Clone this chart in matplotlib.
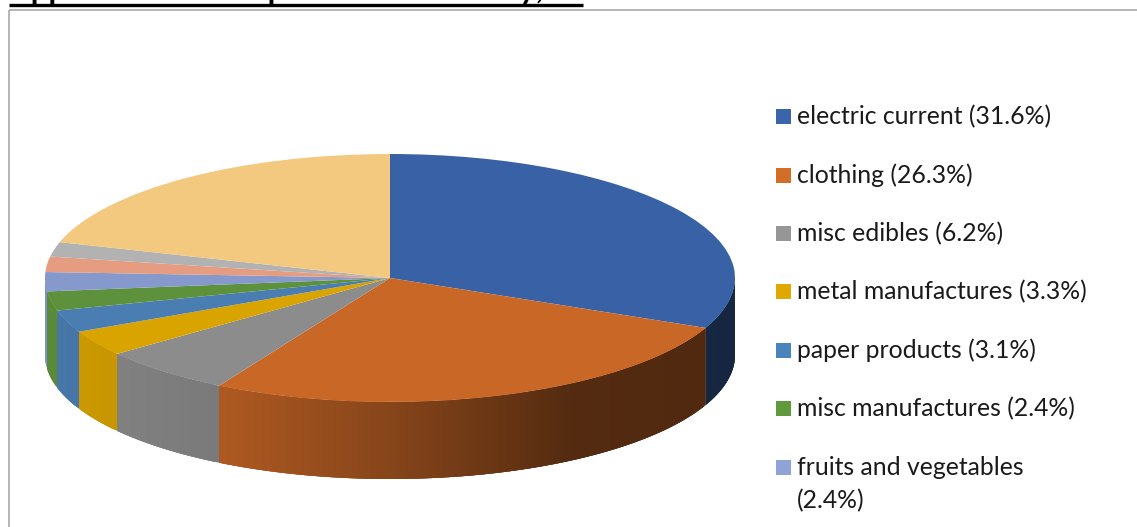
import numpy as np
import matplotlib
matplotlib.use("Agg")
import matplotlib.pyplot as plt
from matplotlib.patches import Rectangle

plt.rcParams['font.family'] = ['Lato', 'DejaVu Sans']

# slice sizes, last three slices have no visible legend row
labels = ["electric current (31.6%)", "clothing (26.3%)", "misc edibles (6.2%)",
          "metal manufactures (3.3%)", "paper products (3.1%)", "misc manufactures (2.4%)",
          "fruits and vegetables\n(2.4%)"]
values = [31.6, 26.65, 6.27, 3.35, 2.9, 2.5, 2.5, 2.0, 1.9, 20.33]
colors = ["#3962A6", "#C96727", "#8C8C8C", "#D9A300", "#4A7EB2",
          "#5E913C", "#8699CC", "#E59C80", "#B2B2B2", "#F3C87F"]
legend_colors = ["#3C64AA", "#D26E28", "#969696", "#E0A800", "#4A84BC", "#5F9B3C", "#8FA3D7"]
legend_rows = [116.5, 175, 233.5, 291.5, 350, 408.5, 467]

title = "Appendix 5: US Imports from Country, 2018"

W, H = 1137, 527
cx, cy, rx, ry, depth = 390, 278, 345, 124, 77

fig = plt.figure(figsize=(W / 100, H / 100), dpi=100)
fig.patch.set_facecolor("white")

# pie lives in unit coords, squashed by the axes limits
ax = fig.add_axes([0, 0, 1, 1])
ax.pie(values, colors=colors, startangle=90, counterclock=False, radius=1,
       wedgeprops={"linewidth": 0})
ax.set_aspect("auto")
ax.set_xlim(-cx / rx, (W - cx) / rx)
ax.set_ylim(-(H - cy) / ry, cy / ry)


def shade(px):
    return np.interp(px, [45, 219, 390, 570, 735], [0.95, 0.87, 0.67, 0.42, 0.39])


# side wall, drawn in thin overlapping strips so the darkening runs left to right
d = depth / ry
edges = np.cumsum([0] + values) / 100 * 360
for i in range(len(values)):
    a0, a1 = max(edges[i], 90), min(edges[i + 1], 270)
    if a1 <= a0:
        continue
    steps = np.radians(np.linspace(a0, a1, int((a1 - a0) * 2) + 2))
    rgb = np.array(matplotlib.colors.to_rgb(colors[i]))
    last = steps[-1]
    for t0, t1 in zip(steps[:-1], steps[1:]):
        # the strip runs on under the next one, hides the seams
        t2 = min(t1 + (t1 - t0) * 2, last)
        ts = np.linspace(t0, t2, 4)
        xs = np.concatenate([np.sin(ts), np.sin(ts[::-1])])
        ys = np.concatenate([np.cos(ts), np.cos(ts[::-1]) - d])
        f = shade(cx + rx * np.sin((t0 + t1) / 2))
        ax.fill(xs, ys, color=rgb * f, lw=0, zorder=0.5)

# everything else in pixel coords
ov = fig.add_axes([0, 0, 1, 1])
ov.set_xlim(0, W)
ov.set_ylim(H, 0)
ov.axis("off")
ov.patch.set_alpha(0)

ov.add_patch(Rectangle((8.5, 10), W + 20, H + 20, fill=False, ec="#A9A9A9", lw=1.2))
ov.plot([9, 583], [5, 5], color="black", lw=2.4, solid_capstyle="butt")
ov.text(9, -1, title, fontsize=22.5, fontweight="bold", color="black", va="baseline", ha="left")

for lab, col, y in zip(labels, legend_colors, legend_rows):
    ov.add_patch(Rectangle((776, y - 7.5), 15, 15, fc=col, ec="none"))
    ov.text(797, y + 8.2, lab.split("\n")[0], fontsize=17.85, color="#1A1A1A", va="baseline", ha="left")
    if "\n" in lab:
        ov.text(797, y + 41, lab.split("\n")[1], fontsize=17.85, color="#1A1A1A", va="baseline", ha="left")

fig.savefig("out.png", dpi=100)
